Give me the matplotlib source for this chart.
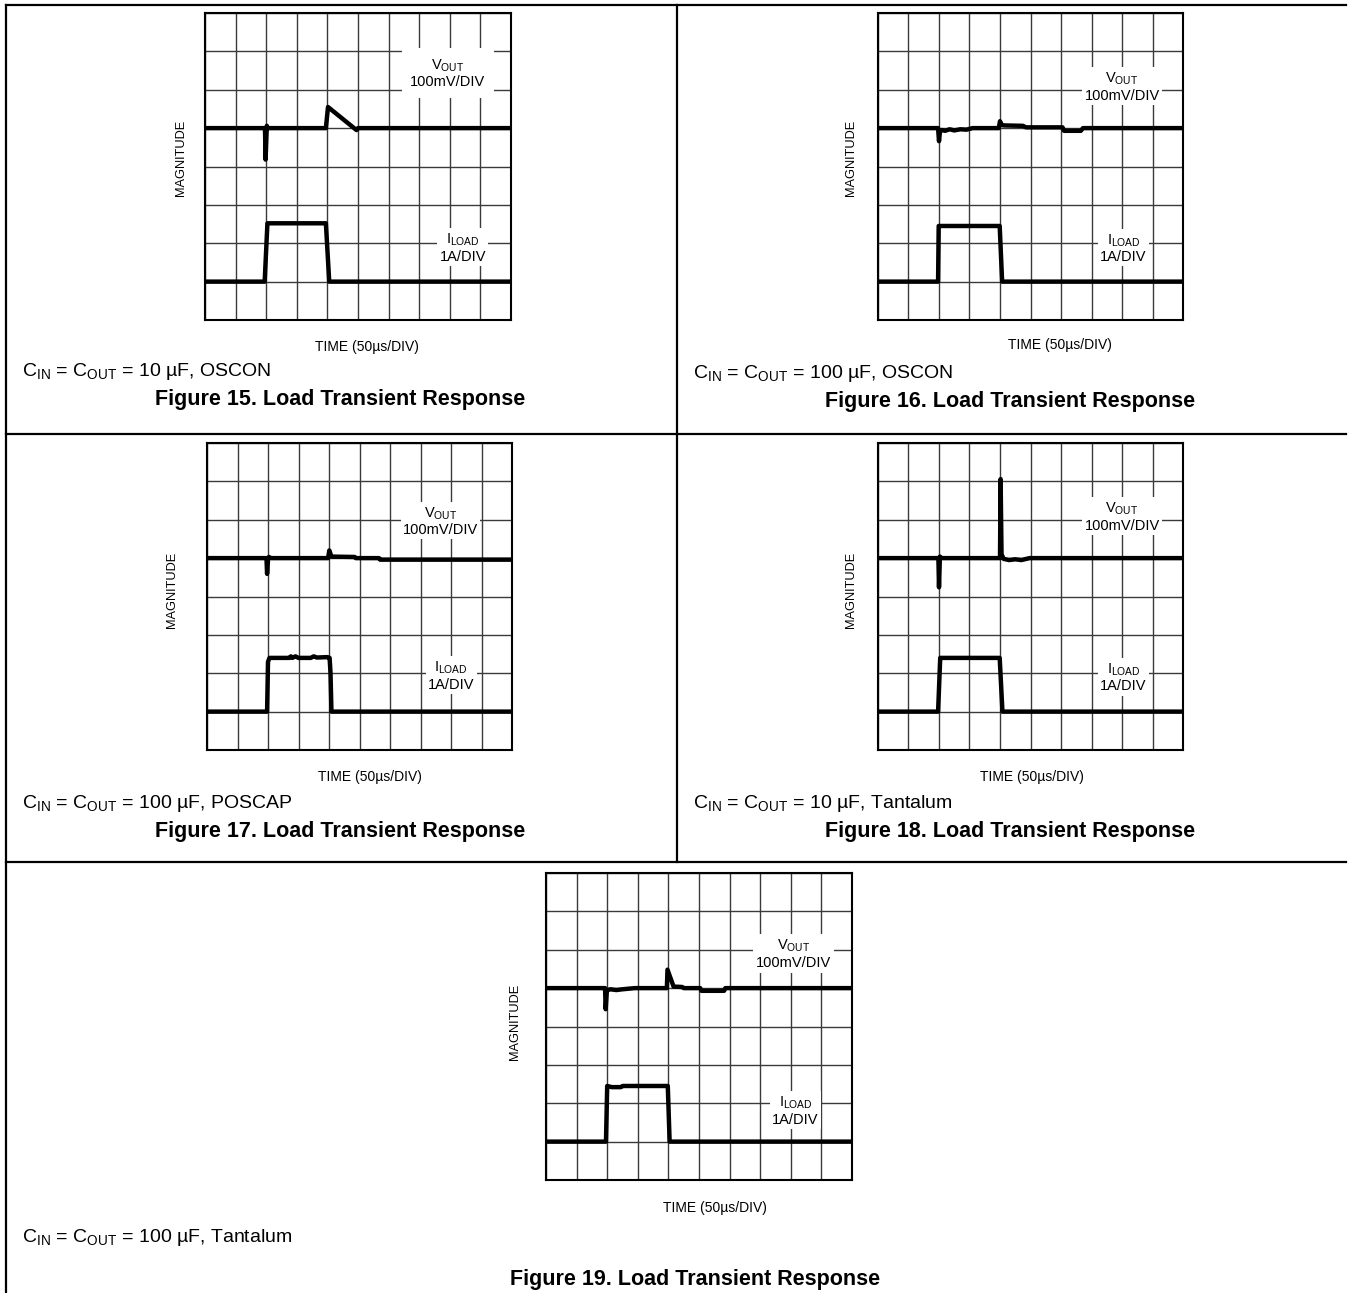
import numpy as np
import matplotlib
matplotlib.use("Agg")
import matplotlib.pyplot as plt
from matplotlib import font_manager

## Font
try:
	font_manager.findfont("Liberation Sans", fallback_to_default=False)
	FONT = "Liberation Sans"
except Exception:
	FONT = "DejaVu Sans"
plt.rcParams["font.family"] = [FONT, "DejaVu Sans"]
plt.rcParams["mathtext.fontset"] = "custom"
plt.rcParams["mathtext.rm"] = FONT
plt.rcParams["mathtext.it"] = FONT
plt.rcParams["mathtext.bf"] = FONT + ":bold"

W, H = 1349, 1293

###############
## Data      ##
###############
## traces in scope divisions (x: 0-10, y: 0-8)

fig15_vout_x = [0, 1.96, 1.98, 2.02, 2.04, 2.1, 3.95, 4.02, 4.95, 5.0, 10]
fig15_vout_y = [5.0, 5.0, 4.18, 5.06, 5.0, 5.0, 5.0, 5.55, 4.95, 5.0, 5.0]
fig15_iload_x = [0, 1.95, 2.04, 3.95, 4.06, 10]
fig15_iload_y = [1.0, 1.0, 2.52, 2.52, 1.0, 1.0]

fig16_vout_x = [0, 1.97, 2.0, 2.03, 2.1, 2.2, 2.35, 2.5, 2.7, 2.9, 3.1, 3.96, 4.0, 4.06, 4.15, 4.75, 4.85, 6.05, 6.1, 6.65, 6.72, 10]
fig16_vout_y = [5.0, 5.0, 4.66, 4.9, 4.95, 4.93, 4.97, 4.94, 4.97, 4.96, 5.0, 5.0, 5.18, 5.08, 5.07, 5.06, 5.02, 5.02, 4.93, 4.93, 5.0, 5.0]
fig16_iload_x = [0, 1.97, 1.99, 3.99, 4.07, 10]
fig16_iload_y = [1.0, 1.0, 2.45, 2.45, 1.0, 1.0]

fig17_vout_x = [0, 1.95, 1.97, 2.0, 2.03, 2.1, 3.97, 4.01, 4.08, 4.84, 4.88, 5.64, 5.68, 10]
fig17_vout_y = [5.0, 5.0, 4.59, 4.96, 5.03, 5.0, 5.0, 5.2, 5.04, 5.03, 5.0, 5.0, 4.96, 4.96]
fig17_iload_x = [0, 1.97, 2.0, 2.05, 2.7, 2.75, 2.8, 2.9, 3.0, 3.4, 3.5, 3.6, 3.95, 4.02, 4.05, 4.08, 10]
fig17_iload_y = [1.0, 1.0, 2.3, 2.4, 2.4, 2.44, 2.4, 2.44, 2.4, 2.4, 2.44, 2.41, 2.42, 2.4, 2.0, 1.0, 1.0]

fig18_vout_x = [0, 1.98, 2.0, 2.03, 2.08, 4.0, 4.02, 4.05, 4.12, 4.3, 4.5, 4.7, 4.97, 10]
fig18_vout_y = [5.0, 5.0, 4.24, 5.04, 5.0, 5.0, 7.06, 5.1, 4.98, 4.95, 4.97, 4.95, 5.0, 5.0]
fig18_iload_x = [0, 1.97, 2.04, 3.99, 4.08, 10]
fig18_iload_y = [1.0, 1.0, 2.4, 2.4, 1.0, 1.0]

fig19_vout_x = [0, 1.93, 1.95, 1.99, 2.1, 2.3, 2.5, 2.9, 3.95, 3.97, 4.17, 4.45, 4.5, 5.04, 5.08, 5.82, 5.86, 10]
fig19_vout_y = [5.0, 5.0, 4.45, 4.94, 4.97, 4.95, 4.97, 5.0, 5.0, 5.48, 5.04, 5.03, 5.0, 5.0, 4.93, 4.93, 5.0, 5.0]
fig19_iload_x = [0, 1.96, 2.0, 2.15, 2.45, 2.5, 3.98, 4.04, 10]
fig19_iload_y = [1.0, 1.0, 2.45, 2.42, 2.42, 2.45, 2.45, 1.0, 1.0]

captions = [
	r"C$_{\mathrm{IN}}$ = C$_{\mathrm{OUT}}$ = 10 µF, OSCON",
	r"C$_{\mathrm{IN}}$ = C$_{\mathrm{OUT}}$ = 100 µF, OSCON",
	r"C$_{\mathrm{IN}}$ = C$_{\mathrm{OUT}}$ = 100 µF, POSCAP",
	r"C$_{\mathrm{IN}}$ = C$_{\mathrm{OUT}}$ = 10 µF, Tantalum",
	r"C$_{\mathrm{IN}}$ = C$_{\mathrm{OUT}}$ = 100 µF, Tantalum",
]
titles = ["Figure %d. Load Transient Response" % n for n in range(15, 20)]

vout_text  = "V$_{\\mathrm{OUT}}$\n100mV/DIV"
iload_text = "I$_{\\mathrm{LOAD}}$\n1A/DIV"
time_text  = "TIME (50µs/DIV)"

###############
## Layout    ##
###############
## plot box in pixels (x0, y0, x1, y1)
boxes = [(205, 13, 511, 320), (878, 13, 1183, 320), (207, 443, 512, 750), (878, 443, 1183, 750), (546, 873, 852, 1180)]
vout_pos  = [(7.93, 6.43), (8.0, 6.08), (7.65, 5.96), (8.0, 6.08), (8.09, 5.89)]
iload_pos = [(8.42, 1.88), (8.05, 1.87), (8.01, 1.93), (8.05, 1.89), (8.15, 1.8)]
vout_pad  = [6, 1.5, 1.5, 1.5, 2]
time_pos  = [(367, 347), (1060, 345), (370, 777), (1032, 777), (715, 1208)]
mag_pos   = [(181, 158), (851, 158), (172, 590), (851, 590), (515, 1022)]
cap_pos   = [(22, 372), (693, 373), (22, 803), (693, 803), (22, 1237)]
title_pos = [(340, 400), (1010, 401), (340, 832), (1010, 832), (695, 1280)]

traces = [
	(fig15_vout_x, fig15_vout_y, fig15_iload_x, fig15_iload_y),
	(fig16_vout_x, fig16_vout_y, fig16_iload_x, fig16_iload_y),
	(fig17_vout_x, fig17_vout_y, fig17_iload_x, fig17_iload_y),
	(fig18_vout_x, fig18_vout_y, fig18_iload_x, fig18_iload_y),
	(fig19_vout_x, fig19_vout_y, fig19_iload_x, fig19_iload_y),
]

fig = plt.figure(figsize=(W / 100, H / 100), dpi=100)

## background axes in pixel coordinates for frame and captions
bg = fig.add_axes([0, 0, 1, 1])
bg.set_xlim(0, W)
bg.set_ylim(H, 0)
bg.axis("off")

lw_frame = 1.6
bg.plot([6, 1346], [5, 5], color="black", lw=lw_frame)
bg.plot([6, 6], [5, H], color="black", lw=lw_frame)
bg.plot([677, 677], [5, 862], color="black", lw=lw_frame)
bg.plot([6, 1346], [434, 434], color="black", lw=lw_frame)
bg.plot([6, 1346], [862, 862], color="black", lw=lw_frame)

for i in range(5):
	x0, y0, x1, y1 = boxes[i]
	ax = fig.add_axes([x0 / W, 1 - y1 / H, (x1 - x0) / W, (y1 - y0) / H])
	ax.set_xlim(0, 10)
	ax.set_ylim(0, 8)
	ax.set_xticks(np.arange(11))
	ax.set_yticks(np.arange(9))
	ax.tick_params(length=0, labelbottom=False, labelleft=False)
	ax.grid(True, color="#3a3a3a", lw=1.0)
	for s in ax.spines.values():
		s.set_linewidth(1.5)
		s.set_color("black")

	vx, vy, ix, iy = traces[i]
	ax.plot(vx, vy, color="black", lw=3.2, solid_joinstyle="round", zorder=3)
	ax.plot(ix, iy, color="black", lw=3.2, solid_joinstyle="round", zorder=3)

	ax.text(vout_pos[i][0], vout_pos[i][1], vout_text, ha="center", va="center", fontsize=10.5,
		linespacing=1.15, zorder=4, bbox=dict(facecolor="white", edgecolor="none", pad=vout_pad[i]))
	ax.text(iload_pos[i][0], iload_pos[i][1], iload_text, ha="center", va="center", fontsize=10.5,
		linespacing=1.15, zorder=4, bbox=dict(facecolor="white", edgecolor="none", pad=1.5))

	bg.text(time_pos[i][0], time_pos[i][1], time_text, ha="center", va="center", fontsize=10)
	bg.text(mag_pos[i][0], mag_pos[i][1], "MAGNITUDE", ha="center", va="center", fontsize=9.2, rotation=90)
	bg.text(cap_pos[i][0], cap_pos[i][1], captions[i], ha="left", va="center", fontsize=14)
	bg.text(title_pos[i][0], title_pos[i][1], titles[i], ha="center", va="center", fontsize=15.5, fontweight="bold")

fig.savefig("out.png", dpi=100)
